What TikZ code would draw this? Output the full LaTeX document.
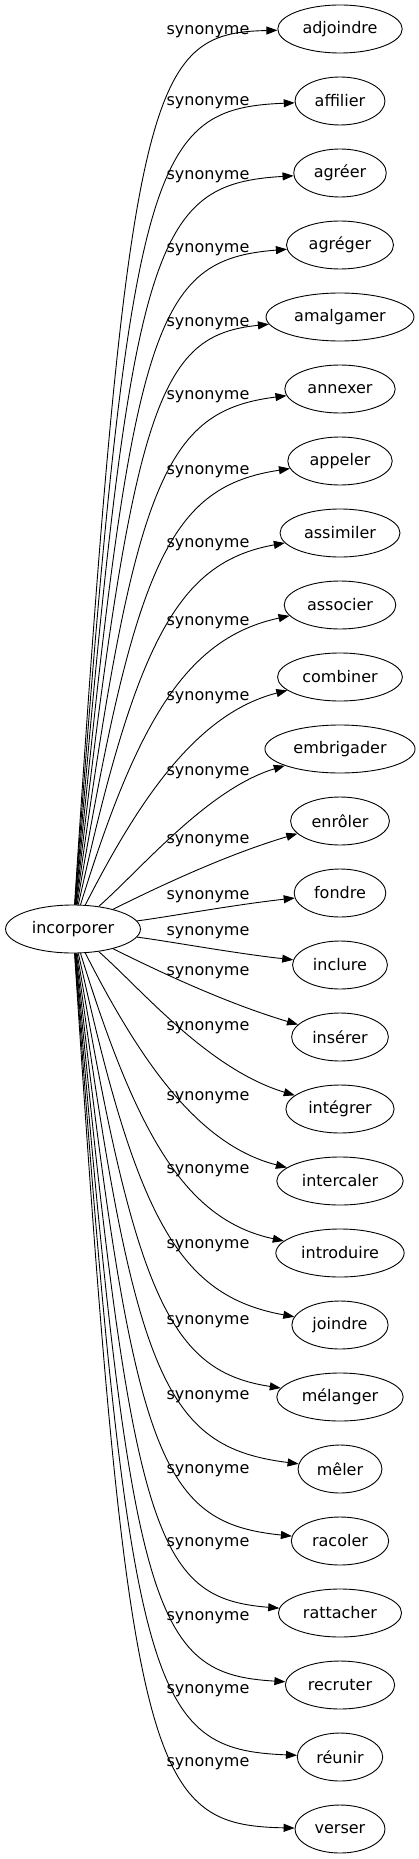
\documentclass[tikz,border=0pt]{standalone}
\usepackage{fontspec}
\setmainfont{DejaVu Sans}
\usetikzlibrary{shapes.geometric,arrows.meta}

\begin{document}
\begin{tikzpicture}[
  x = 1pt, y = -1pt,
  font = \fontsize{16}{19}\selectfont,
  word/.style = {draw, ellipse, line width=0.9pt,
    inner xsep=6.5pt, inner ysep=3pt, minimum height=48pt},
  rel/.style = {inner sep=1pt},
  syn/.style = {line width=0.9pt, -{Triangle[length=11pt, width=8pt]}}
  ]
  \useasboundingbox (0,0) rectangle (419,1859);
  \node [word] (incorporer) at (73,929) {incorporer};
  \foreach \w/\yl [count=\i] in {adjoindre/32, affilier/103, agréer/177,
      agréger/250, amalgamer/324, annexer/397, appeler/472, assimiler/545,
      associer/623, combiner/698, embrigader/773, enrôler/841, fondre/897,
      inclure/933, insérer/973, intégrer/1028, intercaler/1098,
      introduire/1171, joindre/1246, mélanger/1322, mêler/1397,
      racoler/1471, rattacher/1544, recruter/1618, réunir/1691,
      verser/1764}{
    \pgfmathsetmacro\yt{29+72*(\i-1)}
    \pgfmathsetmacro\dd{abs(929-\yt)}
    \pgfmathsetmacro\sg{(929-\yt)/\dd}
    \pgfmathsetmacro\u{\dd/900}
    \pgfmathsetmacro\px{128+15*(1-\u)+60*exp(-\dd/40)}
    \pgfmathsetmacro\py{\yt+\sg*min(0.67*\dd,51+100*(1-\u))}
    \pgfmathsetmacro\qx{150+90*(1-\u)^2}
    \pgfmathsetmacro\qy{\yt+\sg*min(0.33*\dd,4+45*(1-\u))}
    \node [word] (\w) at (340,\yt) {\w};
    \node [rel] (r\i) at (208,\yl) {synonyme};
    \draw [syn] (incorporer) .. controls (\px,\py) and (\qx,\qy) .. (\w);
  }
\end{tikzpicture}
\end{document}
